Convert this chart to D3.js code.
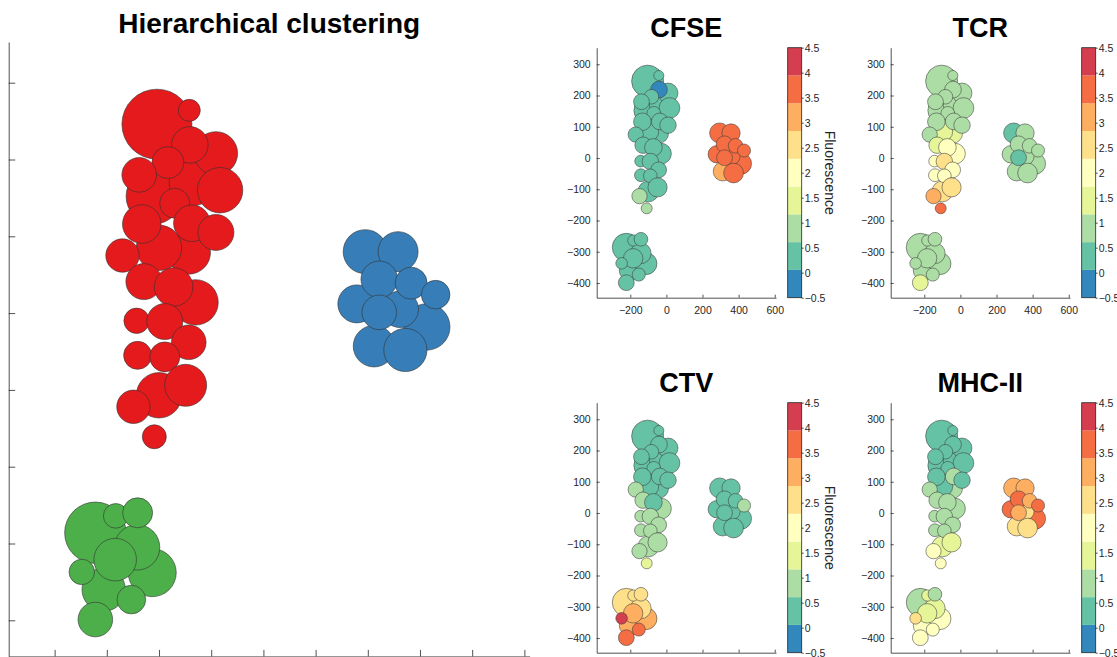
<!DOCTYPE html>
<html>
<head>
<meta charset="utf-8">
<script src="https://cdn.jsdelivr.net/npm/d3@7"></script>
<style>
  body { margin: 0; background: #fff; }
  svg text { font-family: "Liberation Sans", Arial, Helvetica, sans-serif; fill: #262626; }
</style>
</head>
<body>
<svg id="fig" width="1117" height="657"></svg>
<script>
// ---- data (tSNE position of each bubble, its size, cluster and marker fluorescence) ----
const markerNames = ["CFSE", "TCR", "CTV", "MHC-II"];
const clusterColors = ["#e41a1c", "#377eb8", "#4daf4a"];
const spectral9 = ["#3288bd", "#66c2a5", "#abdda4", "#e6f598", "#ffffbf", "#fee08b", "#fdae61", "#f46d43", "#d53e4f"];

const tsneX = [
  -110, -36, -104, -43, -100, -100, -30, 9, 17, -42, -41, -83, -138, -70,
  -133, -37, 9, -170, -129, -72, -143, -89, -43, -141, -89, -49, -149, -109,
  413, 279, 362, 295, 358, 322, 383, 430, 312, 372, 322,
  -222, -206, -113, -142, -184, -183, -141, -248, -153, -222
];
const tsneY = [
  152, 170, 246, 79, 85, -107, 14, 208, 160, 264, 219, 196, 180, 143,
  116, 117, 105, 75, 41, 34, -10, -11, -38, -55, -57, -94, -122, -161,
  -18, 12, 5, 80, 80, 44, 39, 24, -43, -48, 1,
  -286, -360, -338, -305, -321, -264, -260, -337, -373, -399
];
const bubbleSize = [
  27.7, 23.3, 35, 21.7, 22.7, 22.7, 22.7, 21.7, 22.7, 11, 18.3, 16, 17.3, 15,
  19.3, 18.3, 18, 16.7, 18, 19.3, 12.7, 18, 17.3, 14, 15, 21, 16.7, 12,
  23.2, 19, 18.3, 22, 20, 18.3, 16, 14.3, 20.8, 21.6, 17.3,
  30.7, 21.7, 24, 22.7, 21.3, 12.3, 15, 12.7, 14.3, 17.3
];
const clusterId = [
  0, 0, 0, 0, 0, 0, 0, 0, 0, 0, 0, 0, 0, 0,
  0, 0, 0, 0, 0, 0, 0, 0, 0, 0, 0, 0, 0, 0,
  1, 1, 1, 1, 1, 1, 1, 1, 1, 1, 1,
  2, 2, 2, 2, 2, 2, 2, 2, 2, 2
];
const cfse = [
  0.3, 0.3, 0.3, 0.3, 0.3, 0.3, 0.3, 0.3, 0.3, 0.3, -0.2, 0.3, 0.3, 0.3,
  0.3, 0.3, 0.3, 0.3, 0.3, 0.3, 0.3, 0.3, 0.3, 0.3, 0.3, 0.3, 0.85, 0.85,
  3.65, 3.65, 3.65, 3.65, 3.65, 3.65, 3.65, 3.65, 3.1, 3.65, 3.65,
  0.3, 0.3, 0.3, 0.3, 0.3, 0.3, 0.3, 0.3, 0.3, 0.3
];
const tcr = [
  0.85, 0.85, 0.85, 1.45, 1.45, 2.55, 2.0, 0.85, 0.85, 0.85, 0.85, 0.85, 0.85, 0.85,
  0.85, 0.85, 0.85, 0.85, 1.45, 2.0, 2.0, 2.55, 2.0, 2.0, 2.0, 2.55, 3.1, 3.65,
  0.85, 0.85, 0.85, 0.3, 0.85, 0.85, 0.85, 0.85, 0.85, 0.85, 0.3,
  0.85, 0.85, 0.85, 0.85, 0.85, 0.85, 0.85, 0.85, 0.85, 1.45
];
const ctv = [
  0.3, 0.3, 0.3, 0.3, 0.3, 0.85, 0.85, 0.3, 0.3, 0.3, 0.3, 0.3, 0.3, 0.3,
  0.3, 0.3, 0.3, 0.85, 0.85, 0.3, 0.85, 0.85, 0.85, 0.85, 0.85, 0.85, 0.85, 1.45,
  0.3, 0.3, 0.3, 0.3, 0.3, 0.3, 0.3, 0.85, 0.3, 0.3, 0.3,
  2.55, 3.1, 3.1, 2.55, 3.1, 2.55, 2.55, 4.2, 3.65, 3.65
];
const mhc = [
  0.3, 0.3, 0.3, 0.85, 0.3, 1.45, 0.85, 0.3, 0.3, 0.3, 0.3, 0.3, 0.3, 0.3,
  0.3, 0.85, 0.3, 0.85, 0.85, 0.85, 0.85, 0.85, 0.85, 0.85, 0.85, 1.45, 2.0, 2.0,
  3.65, 3.65, 2.55, 3.1, 3.1, 3.65, 3.1, 3.65, 2.55, 2.55, 3.1,
  0.85, 2.0, 2.0, 1.45, 1.45, 1.45, 0.85, 2.55, 2.0, 2.0
];

const smallXTicks = [-200, 0, 200, 400, 600];
const yTicks = [-400, -300, -200, -100, 0, 100, 200, 300];
const leftXTicks = [-300, -200, -100, 0, 100, 200, 300, 400, 500, 600];
const colorTicks = [-0.5, 0, 0.5, 1, 1.5, 2, 2.5, 3, 3.5, 4, 4.5];

// ---- build ----
const svg = d3.select("#fig");
const bubbles = tsneX.map((x, i) => ({
  x: x, y: tsneY[i], size: bubbleSize[i], cluster: clusterId[i],
  values: [cfse[i], tcr[i], ctv[i], mhc[i]]
}));

const yDomain = [-447, 353];
const axisColor = "#262626";

function styleAxis(g) {
  g.select(".domain").attr("stroke", axisColor).attr("stroke-width", 0.8);
  g.selectAll(".tick line").attr("stroke", axisColor).attr("stroke-width", 0.8);
  g.selectAll(".tick text").attr("fill", axisColor);
}

// ---------- big panel: hierarchical clustering ----------
const leftX = d3.scaleLinear().domain([-388, 610]).range([8.7, 529.6]);
const leftY = d3.scaleLinear().domain(yDomain).range([656.4, 42]);
const leftR = d3.scaleLinear().domain([0, 35]).range([0, 35]);

const left = svg.append("g");
left.append("text")
  .attr("x", (leftX.range()[0] + leftX.range()[1]) / 2)
  .attr("y", 33)
  .attr("text-anchor", "middle")
  .style("font-size", "28px")
  .style("font-weight", "bold")
  .style("fill", "#000")
  .text("Hierarchical clustering");

left.selectAll("circle")
  .data(bubbles)
  .join("circle")
  .attr("cx", d => leftX(d.x))
  .attr("cy", d => leftY(d.y))
  .attr("r", d => leftR(d.size))
  .attr("fill", d => clusterColors[d.cluster])
  .attr("stroke", "#333")
  .attr("stroke-width", 0.6);

left.append("g")
  .attr("transform", `translate(${leftX.range()[0]},0)`)
  .call(d3.axisLeft(leftY).tickValues(yTicks).tickSizeInner(-6.5).tickSizeOuter(0).tickFormat(""))
  .call(styleAxis);
left.append("g")
  .attr("transform", `translate(0,${leftY.range()[0]})`)
  .call(d3.axisBottom(leftX).tickValues(leftXTicks).tickSizeInner(-6.5).tickSizeOuter(0).tickFormat(""))
  .call(styleAxis);

// ---------- four small marker panels ----------
const panelW = 179.3, panelH = 250;
const panelPos = [
  { left: 596.7, top: 47.7, label: true, xLabels: true },
  { left: 890.7, top: 47.7, label: false, xLabels: true },
  { left: 596.7, top: 402.7, label: true, xLabels: false },   // x labels fall below the window
  { left: 890.7, top: 402.7, label: false, xLabels: false }
];
const color = d3.scaleQuantize().domain([-0.5, 4.5]).range(spectral9);
const smallR = d3.scaleLinear().domain([0, 35]).range([0, 16]);

markerNames.forEach((name, k) => {
  const p = panelPos[k];
  const x = d3.scaleLinear().domain([-386, 607]).range([p.left, p.left + panelW]);
  const y = d3.scaleLinear().domain(yDomain).range([p.top + panelH, p.top]);
  const g = svg.append("g");

  g.append("text")
    .attr("x", p.left + panelW / 2)
    .attr("y", p.top - 10.5)
    .attr("text-anchor", "middle")
    .style("font-size", "27px")
    .style("font-weight", "bold")
    .style("fill", "#000")
    .text(name);

  g.selectAll("circle")
    .data(bubbles)
    .join("circle")
    .attr("cx", d => x(d.x))
    .attr("cy", d => y(d.y))
    .attr("r", d => smallR(d.size))
    .attr("fill", d => color(d.values[k]))
    .attr("stroke", "#3a3a3a")
    .attr("stroke-width", 0.55);

  g.append("g")
    .attr("transform", `translate(${p.left},0)`)
    .call(d3.axisLeft(y).tickValues(yTicks).tickSizeInner(-3).tickSizeOuter(0).tickPadding(6))
    .call(styleAxis)
    .call(a => a.selectAll("text").style("font-size", "10.5px"));

  const xAxis = d3.axisBottom(x).tickValues(smallXTicks).tickSizeInner(-3).tickSizeOuter(0).tickPadding(9);
  if (!p.xLabels) xAxis.tickFormat("");
  g.append("g")
    .attr("transform", `translate(0,${p.top + panelH})`)
    .call(xAxis)
    .call(styleAxis)
    .call(a => a.selectAll("text").style("font-size", "10.5px"));

  // colorbar
  const cbX = p.left + panelW + 11.7, cbW = 14;
  const cy = d3.scaleLinear().domain(color.domain()).range([p.top + panelH, p.top]);
  const edges = [color.domain()[0], ...color.thresholds(), color.domain()[1]];
  const bands = spectral9.map((c, i) => ({ c: c, lo: edges[i], hi: edges[i + 1] }));
  g.append("g").selectAll("rect")
    .data(bands)
    .join("rect")
    .attr("x", cbX)
    .attr("width", cbW)
    .attr("y", d => cy(d.hi))
    .attr("height", d => cy(d.lo) - cy(d.hi))
    .attr("fill", d => d.c);
  g.append("rect")
    .attr("x", cbX).attr("y", p.top)
    .attr("width", cbW).attr("height", panelH)
    .attr("fill", "none")
    .attr("stroke", axisColor)
    .attr("stroke-width", 0.8);
  g.append("g")
    .attr("transform", `translate(${cbX + cbW},0)`)
    .call(d3.axisRight(cy).tickValues(colorTicks).tickSizeInner(2).tickSizeOuter(0).tickPadding(1).tickFormat(d3.format("")))
    .call(styleAxis)
    .call(a => a.select(".domain").remove())
    .call(a => a.selectAll("text").style("font-size", "10.5px"));

  if (p.label) {
    g.append("text")
      .attr("transform", `translate(${cbX + cbW + 28},${p.top + panelH / 2}) rotate(90)`)
      .attr("text-anchor", "middle")
      .attr("dominant-baseline", "central")
      .style("font-size", "14px")
      .text("Fluorescence");
  }
});
</script>
</body>
</html>
